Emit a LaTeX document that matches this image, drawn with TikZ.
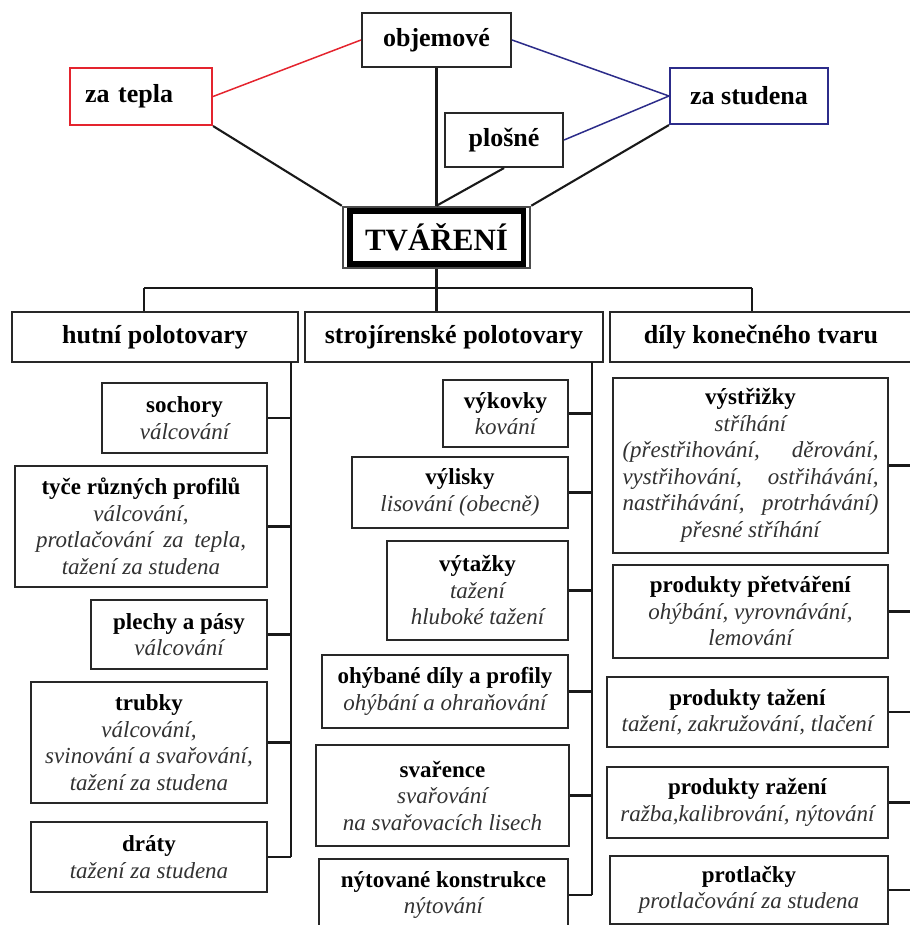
\documentclass[tikz,border=0pt]{standalone}
\usepackage{fontspec}
\setmainfont{Liberation Serif}
\usepackage{tikz}
\usetikzlibrary{positioning}
\definecolor{HotRed}{RGB}{228,36,46}
\definecolor{ColdBlue}{RGB}{44,44,138}
\definecolor{FrameGray}{RGB}{40,40,40}
\definecolor{NoteGray}{RGB}{50,50,50}
\tikzset{
  plainbox/.style={draw=FrameGray, line width=2.1pt, fill=white, align=center, inner sep=0pt},
  topbox/.style={plainbox, font=\fontsize{26}{30}\selectfont\bfseries},
  catbox/.style={plainbox, minimum height=50pt, font=\fontsize{26}{30}\selectfont\bfseries},
  itembox/.style={plainbox, font=\fontsize{23}{26.5}\selectfont},
  link/.style={line width=2.1pt, black!90},
}
\newcommand{\ttl}[1]{\textbf{#1}}
\newcommand{\how}[1]{{\itshape\color{NoteGray}#1}}

\begin{document}
\begin{tikzpicture}[x=1pt, y=-1pt]
        \useasboundingbox (0,0) rectangle (909,925);
        \node[topbox, minimum width=149pt, minimum height=54pt] (objemove) at (436.5,40) {objemové};
        \node[topbox, draw=HotRed, minimum height=57pt, text width=112pt, align=left, inner xsep=15pt] (zatepla) at (141,96.5) {za tepla};
        \node[topbox, draw=ColdBlue, minimum width=158pt, minimum height=56pt] (zastudena) at (749,96) {za studena};
        \node[topbox, minimum width=118pt, minimum height=54pt] (plosne) at (504,140) {plošné};
        \node[plainbox, draw=gray!60!black, line width=2.5pt, minimum width=187pt, minimum height=61pt, font=\fontsize{31}{36}\selectfont\bfseries] (tvareni) at (436.5,237.5) {TVÁŘENÍ};
        \draw[black, line width=5.5pt] ([xshift=8pt,yshift=5.5pt]tvareni.south west) rectangle ([xshift=-8pt,yshift=-5.5pt]tvareni.north east);

        \draw[HotRed, line width=1.5pt] (zatepla.east) -- (objemove.west);
        \draw[ColdBlue, line width=1.5pt] (objemove.east) -- (zastudena.west);
        \draw[ColdBlue, line width=1.5pt] (plosne.east) -- (zastudena.west);
        \draw[link] (zatepla.south east) -- (tvareni.north west);
        \draw[link] (objemove.south) -- (tvareni.north);
        \draw[link] (plosne.south) -- (tvareni.north);
        \draw[link] (zastudena.south west) -- (tvareni.north east);

        \node[catbox, minimum width=286pt] (hutni) at (155,337) {hutní polotovary};
        \node[catbox, minimum width=298pt] (stroj) at (454,337) {strojírenské polotovary};
        \node[catbox, minimum width=302pt] (dily) at (761,337) {díly konečného tvaru};

        \coordinate (busL) at (144,288);
        \coordinate (busM) at (436.5,288);
        \coordinate (busR) at (752,288);
        \draw[link] (tvareni.south) -- (busM);
        \draw[link] (busL) -- (busR);
        \draw[link] (busL) -- (busL |- hutni.north);
        \draw[link] (busM) -- (busM |- stroj.north);
        \draw[link] (busR) -- (busR |- dily.north);

        \node[itembox, minimum width=165pt, minimum height=70pt] (sochory) at (184.5,418) {\ttl{sochory}\\\how{válcování}};
        \node[itembox, minimum width=252pt, minimum height=121pt] (tyce) at (141,526.5) {\ttl{tyče různých profilů}\\\how{válcování,}\\\how{\makebox[210pt][s]{protlačování za tepla,}}\\\how{tažení za studena}};
        \node[itembox, minimum width=176pt, minimum height=69pt] (plechy) at (179,634.5) {\ttl{plechy a pásy}\\\how{válcování}};
        \node[itembox, minimum width=236pt, minimum height=121pt] (trubky) at (149,742.5) {\ttl{trubky}\\\how{válcování,}\\\how{svinování a svařování,}\\\how{tažení za studena}};
        \node[itembox, minimum width=236pt, minimum height=70pt] (draty) at (149,857) {\ttl{dráty}\\\how{tažení za studena}};

        \node[itembox, minimum width=125pt, minimum height=67pt] (vykovky) at (505.5,413.5) {\ttl{výkovky}\\\how{kování}};
        \node[itembox, minimum width=216pt, minimum height=71pt] (vylisky) at (460,492.5) {\ttl{výlisky}\\\how{lisování (obecně)}};
        \node[itembox, minimum width=181pt, minimum height=99pt] (vytazky) at (477.5,590.5) {\ttl{výtažky}\\\how{tažení}\\\how{hluboké tažení}};
        \node[itembox, minimum width=246pt, minimum height=73pt] (ohybane) at (445,691.5) {\ttl{ohýbané díly a profily}\\\how{ohýbání a ohraňování}};
        \node[itembox, minimum width=253pt, minimum height=101pt] (svarence) at (442.5,795.5) {\ttl{svařence}\\\how{svařování}\\\how{na svařovacích lisech}};
        \node[itembox, minimum width=249pt, minimum height=72pt] (nytovane) at (443.5,895) {\ttl{nýtované konstrukce}\\\how{nýtování}};

        \node[itembox, minimum width=275pt, minimum height=175pt] (vystrizky) at (750.5,465.5) {\ttl{výstřižky}\\\how{stříhání}\\\how{\makebox[256pt][s]{(přestřihování, děrování,}}\\\how{\makebox[256pt][s]{vystřihování, ostřihávání,}}\\\how{\makebox[256pt][s]{nastřihávání, protrhávání)}}\\\how{přesné stříhání}};
        \node[itembox, minimum width=275pt, minimum height=93pt] (pretvareni) at (750.5,611.5) {\ttl{produkty přetváření}\\\how{ohýbání, vyrovnávání,}\\\how{lemování}};
        \node[itembox, minimum width=281pt, minimum height=70pt] (tazeni) at (747.5,712) {\ttl{produkty tažení}\\\how{tažení, zakružování, tlačení}};
        \node[itembox, minimum width=281pt, minimum height=71pt] (razeni) at (747.5,802.5) {\ttl{produkty ražení}\\\how{ražba,kalibrování, nýtování}};
        \node[itembox, minimum width=278pt, minimum height=68pt] (protlacky) at (749,890) {\ttl{protlačky}\\\how{protlačování za studena}};

        \coordinate (trunkL) at (291,362);
        \coordinate (trunkM) at (592,362);
        \coordinate (trunkR) at (911,362);
        \draw[link] (trunkL) -- (draty.east -| trunkL);
        \draw[link] (trunkM) -- (nytovane.east -| trunkM);
        \draw[link] (trunkR) -- (protlacky.east -| trunkR);
        \draw[link] (sochory.east) -- (sochory.east -| trunkL);
        \draw[link] (tyce.east) -- (tyce.east -| trunkL);
        \draw[link] (plechy.east) -- (plechy.east -| trunkL);
        \draw[link] (trubky.east) -- (trubky.east -| trunkL);
        \draw[link] (draty.east) -- (draty.east -| trunkL);
        \draw[link] (vykovky.east) -- (vykovky.east -| trunkM);
        \draw[link] (vylisky.east) -- (vylisky.east -| trunkM);
        \draw[link] (vytazky.east) -- (vytazky.east -| trunkM);
        \draw[link] (ohybane.east) -- (ohybane.east -| trunkM);
        \draw[link] (svarence.east) -- (svarence.east -| trunkM);
        \draw[link] (nytovane.east) -- (nytovane.east -| trunkM);
        \draw[link] (vystrizky.east) -- (vystrizky.east -| trunkR);
        \draw[link] (pretvareni.east) -- (pretvareni.east -| trunkR);
        \draw[link] (tazeni.east) -- (tazeni.east -| trunkR);
        \draw[link] (razeni.east) -- (razeni.east -| trunkR);
        \draw[link] (protlacky.east) -- (protlacky.east -| trunkR);
      \end{tikzpicture}
\end{document}
